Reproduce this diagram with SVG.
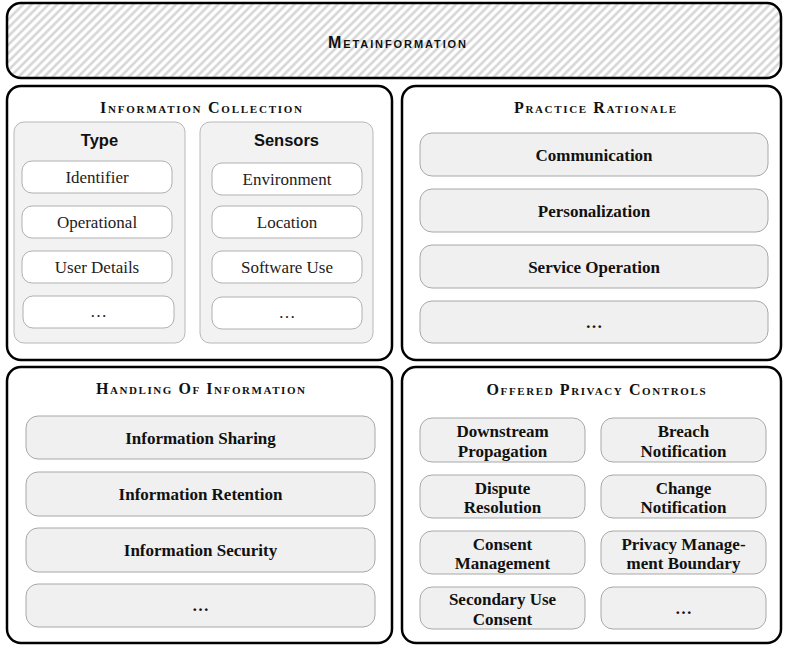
<svg xmlns="http://www.w3.org/2000/svg" width="785" height="645" viewBox="0 0 785 645">
  <defs>
    <!-- diagonal hatching for the metainformation band -->
    <pattern id="hatch" patternUnits="userSpaceOnUse" width="6" height="6" patternTransform="rotate(45)">
      <rect width="6" height="6" fill="#ffffff"/>
      <line x1="1.5" y1="0" x2="1.5" y2="6" stroke="#d3d3d3" stroke-width="2.4"/>
    </pattern>
    <style>
      .outer { fill: #ffffff; stroke: #000000; stroke-width: 2.5; }
      .band { fill: url(#hatch); stroke: #000000; stroke-width: 2.5; }
      .panel { fill: #f2f2f2; stroke: #b8b8b8; stroke-width: 1; }
      .leaf { fill: #ffffff; stroke: #b0b0b0; stroke-width: 1; }
      .item { fill: #f0f0f0; stroke: #a8a8a8; stroke-width: 1; }
      .title { font-family: "Liberation Serif", "Times New Roman", serif; font-weight: bold; font-size: 16px; font-variant: small-caps; text-anchor: middle; fill: #111; }
      .metatitle { font-family: "Liberation Sans", Arial, sans-serif; font-weight: bold; font-size: 16px; font-variant: small-caps; text-anchor: middle; fill: #111; }
      .head { font-family: "Liberation Sans", Arial, sans-serif; font-weight: bold; font-size: 16.5px; text-anchor: middle; fill: #111; }
      .leaftxt { font-family: "Liberation Serif", "Times New Roman", serif; font-size: 17px; text-anchor: middle; fill: #222; }
      .itemtxt { font-family: "Liberation Serif", "Times New Roman", serif; font-weight: bold; font-size: 17px; text-anchor: middle; fill: #111; }
    </style>
  </defs>

  <!-- Metainformation band -->
  <g id="metainformation">
    <rect class="band" x="7" y="3" width="774" height="75" rx="14"/>
    <text class="metatitle" x="397" y="48" textLength="138" lengthAdjust="spacing">Metainformation</text>
  </g>

  <!-- Information collection -->
  <g id="information-collection">
    <rect class="outer" x="7" y="86" width="385" height="274" rx="14"/>
    <text class="title" x="201" y="113" textLength="202" lengthAdjust="spacing">Information Collection</text>
  </g>
  <g id="type">
    <rect class="panel" x="14" y="122" width="171" height="221" rx="10"/>
    <text class="head" x="99.5" y="146">Type</text>
  </g>
  <g id="type-identifier">
    <rect class="leaf" x="22" y="161" width="150" height="32" rx="10"/>
    <text class="leaftxt" x="97" y="183">Identifier</text>
  </g>
  <g id="type-operational">
    <rect class="leaf" x="22" y="206" width="150" height="32" rx="10"/>
    <text class="leaftxt" x="97" y="228">Operational</text>
  </g>
  <g id="type-user-details">
    <rect class="leaf" x="22" y="251" width="150" height="32" rx="10"/>
    <text class="leaftxt" x="97" y="273">User Details</text>
  </g>
  <g id="type-more">
    <rect class="leaf" x="23" y="296" width="151" height="32" rx="10"/>
    <text class="leaftxt" x="98.5" y="317">…</text>
  </g>
  <g id="sensors">
    <rect class="panel" x="200" y="122" width="173" height="221" rx="10"/>
    <text class="head" x="286.5" y="146">Sensors</text>
  </g>
  <g id="sensors-environment">
    <rect class="leaf" x="212" y="163" width="150" height="32" rx="10"/>
    <text class="leaftxt" x="287" y="185">Environment</text>
  </g>
  <g id="sensors-location">
    <rect class="leaf" x="212" y="206" width="150" height="32" rx="10"/>
    <text class="leaftxt" x="287" y="228">Location</text>
  </g>
  <g id="sensors-software-use">
    <rect class="leaf" x="212" y="251" width="150" height="32" rx="10"/>
    <text class="leaftxt" x="287" y="273">Software Use</text>
  </g>
  <g id="sensors-more">
    <rect class="leaf" x="212" y="297" width="150" height="32" rx="10"/>
    <text class="leaftxt" x="287" y="318">…</text>
  </g>

  <!-- Practice rationale -->
  <g id="practice-rationale">
    <rect class="outer" x="402" y="86" width="379" height="274" rx="14"/>
    <text class="title" x="595" y="113" textLength="162" lengthAdjust="spacing">Practice Rationale</text>
  </g>
  <g id="pr-communication">
    <rect class="item" x="420" y="133" width="348" height="43" rx="12"/>
    <text class="itemtxt" x="594" y="160.5">Communication</text>
  </g>
  <g id="pr-personalization">
    <rect class="item" x="420" y="189" width="348" height="43" rx="12"/>
    <text class="itemtxt" x="594" y="216.5">Personalization</text>
  </g>
  <g id="pr-service-operation">
    <rect class="item" x="420" y="245" width="348" height="43" rx="12"/>
    <text class="itemtxt" x="594" y="272.5">Service Operation</text>
  </g>
  <g id="pr-more">
    <rect class="item" x="420" y="301" width="348" height="42" rx="12"/>
    <text class="itemtxt" x="594" y="327.5">…</text>
  </g>

  <!-- Handling of information -->
  <g id="handling-of-information">
    <rect class="outer" x="7" y="367" width="385" height="276" rx="14"/>
    <text class="title" x="200.5" y="394" textLength="209" lengthAdjust="spacing">Handling Of Information</text>
  </g>
  <g id="hi-sharing">
    <rect class="item" x="26" y="416" width="349" height="43" rx="12"/>
    <text class="itemtxt" x="200.5" y="443.5">Information Sharing</text>
  </g>
  <g id="hi-retention">
    <rect class="item" x="26" y="472" width="349" height="44" rx="12"/>
    <text class="itemtxt" x="200.5" y="500">Information Retention</text>
  </g>
  <g id="hi-security">
    <rect class="item" x="26" y="528" width="349" height="44" rx="12"/>
    <text class="itemtxt" x="200.5" y="556">Information Security</text>
  </g>
  <g id="hi-more">
    <rect class="item" x="26" y="584" width="349" height="43" rx="12"/>
    <text class="itemtxt" x="200.5" y="610.5">…</text>
  </g>

  <!-- Offered privacy controls -->
  <g id="offered-privacy-controls">
    <rect class="outer" x="402" y="367" width="379" height="276" rx="14"/>
    <text class="title" x="596" y="395" textLength="219" lengthAdjust="spacing">Offered Privacy Controls</text>
  </g>
  <g id="pc-downstream-propagation">
    <rect class="item" x="420" y="418" width="165" height="44" rx="12"/>
    <text class="itemtxt" x="502.5" y="437">Downstream</text>
    <text class="itemtxt" x="502.5" y="456.5">Propagation</text>
  </g>
  <g id="pc-breach-notification">
    <rect class="item" x="601" y="418" width="165" height="44" rx="12"/>
    <text class="itemtxt" x="683.5" y="437">Breach</text>
    <text class="itemtxt" x="683.5" y="456.5">Notification</text>
  </g>
  <g id="pc-dispute-resolution">
    <rect class="item" x="420" y="475" width="165" height="43" rx="12"/>
    <text class="itemtxt" x="502.5" y="493.5">Dispute</text>
    <text class="itemtxt" x="502.5" y="513">Resolution</text>
  </g>
  <g id="pc-change-notification">
    <rect class="item" x="601" y="475" width="165" height="43" rx="12"/>
    <text class="itemtxt" x="683.5" y="493.5">Change</text>
    <text class="itemtxt" x="683.5" y="513">Notification</text>
  </g>
  <g id="pc-consent-management">
    <rect class="item" x="420" y="531" width="165" height="43" rx="12"/>
    <text class="itemtxt" x="502.5" y="549.5">Consent</text>
    <text class="itemtxt" x="502.5" y="569">Management</text>
  </g>
  <g id="pc-privacy-management-boundary">
    <rect class="item" x="601" y="531" width="165" height="43" rx="12"/>
    <text class="itemtxt" x="683.5" y="549.5">Privacy Manage-</text>
    <text class="itemtxt" x="683.5" y="569">ment Boundary</text>
  </g>
  <g id="pc-secondary-use-consent">
    <rect class="item" x="420" y="587" width="165" height="42" rx="12"/>
    <text class="itemtxt" x="502.5" y="605">Secondary Use</text>
    <text class="itemtxt" x="502.5" y="624.5">Consent</text>
  </g>
  <g id="pc-more">
    <rect class="item" x="601" y="587" width="165" height="42" rx="12"/>
    <text class="itemtxt" x="683.5" y="613.5">…</text>
  </g>

  <!-- no connectors in this layout -->
  <g id="connectors"/>
</svg>
